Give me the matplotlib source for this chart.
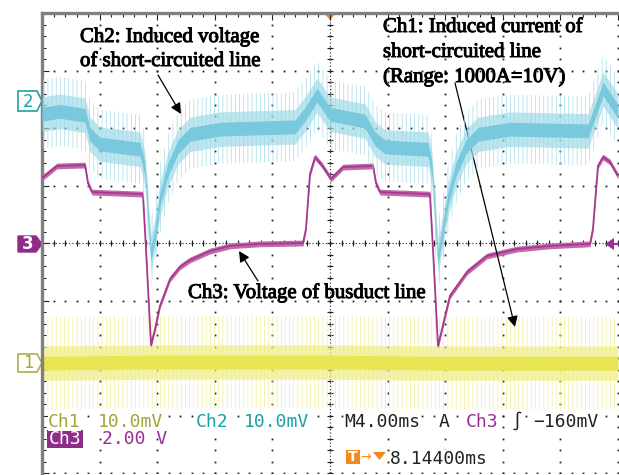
import numpy as np
import matplotlib
matplotlib.use("Agg")
import matplotlib.pyplot as plt
import matplotlib.patheffects as pe
from matplotlib.patches import Polygon, Rectangle
from matplotlib.transforms import Affine2D

# scope settings (from the readout)
MS_PER_DIV = 4.0
CH1_MV_PER_DIV, CH1_POS = 10.0, -2.05
CH2_MV_PER_DIV, CH2_POS = 10.0, 2.45
CH3_V_PER_DIV, CH3_POS = 2.0, 0.0

# Ch3: voltage of busduct line (V)
ch3_t = [0.00, 1.04, 2.99, 3.19, 3.47, 7.01, 7.22, 7.57, 7.85, 8.19, 8.89, 9.58,
         10.28, 11.67, 13.06, 15.14, 18.13, 18.33, 18.61, 18.96, 19.44, 20.07,
         20.90, 22.99, 23.19, 23.47, 26.94, 27.15, 27.50, 27.78, 28.33, 29.51,
         30.90, 32.99, 35.28, 38.06, 38.26, 38.61, 38.96, 39.44, 40.00]
ch3_v = [2.26, 2.68, 2.71, 2.09, 1.77, 1.70, -0.21, -3.55, -2.99, -2.19, -1.25, -0.83,
         -0.59, -0.28, -0.10, -0.03, 0.00, 0.49, 2.40, 2.99, 2.71, 2.23,
         2.64, 2.68, 2.09, 1.77, 1.70, -0.21, -3.58, -2.99, -1.84, -1.01,
         -0.45, -0.21, -0.10, -0.03, 0.49, 2.68, 2.99, 2.82, 2.33]

# Ch2: induced voltage of short-circuited line, mean of the noisy trace (mV)
ch2_t = [0.00, 1.25, 2.99, 3.33, 4.03, 6.81, 7.15, 7.36, 7.57, 7.85, 8.19, 8.75,
         9.44, 10.28, 12.36, 17.57, 18.26, 19.10, 20.00, 22.43, 23.13, 23.82,
         26.81, 27.08, 27.29, 27.50, 27.78, 28.19, 28.75, 29.44, 30.28, 32.50,
         37.92, 38.47, 38.96, 39.44, 40.00]
ch2_mv = [-2.1, -1.6, -2.3, -5.6, -7.3, -8.2, -11.7, -19.5, -26.4, -23.0, -16.9, -11.7,
          -7.8, -5.6, -4.7, -4.3, -2.1, 1.2, -2.1, -3.3, -6.4, -7.8,
          -8.2, -11.7, -19.5, -27.0, -23.0, -16.9, -11.7, -7.8, -5.6, -4.7,
          -5.0, -1.2, 2.3, 0.5, -1.6]
ch2_noise = [1.2, 3.0, 6.0]   # core / body / spike half-widths (mV)

# Ch1: induced current of short-circuited line (mV)
ch1_t = [0.0, 7.5, 20.0, 27.5, 40.0]
ch1_mv = [-0.4, -0.2, -0.2, -0.4, -0.4]
ch1_noise = [1.2, 3.0, 8.0]

W, H = 619, 475
plt.rcParams["hatch.linewidth"] = 0.5
fig = plt.figure(figsize=(W / 100, H / 100), dpi=100)
PX = Affine2D().scale(1 / W, -1 / H).translate(0, 1) + fig.transFigure
ax = fig.add_axes([42 / W, (H - 473) / H, 576 / W, 460 / H])
ax.set_xlim(0, 10 * MS_PER_DIV)
ax.set_ylim(-4, 4)

# graticule
dot_y = np.arange(-4, 4.001, 0.2)
dot_x = np.arange(0, 40.001, 0.8)
for gx in np.arange(0, 40.001, MS_PER_DIV):
    ax.plot(np.full_like(dot_y, gx), dot_y, ls="none", marker="s", ms=1.3,
            color="#222222", mew=0, zorder=1)
for gy in range(-4, 5):
    ax.plot(dot_x, np.full_like(dot_x, gy), ls="none", marker="s", ms=1.3,
            color="#222222", mew=0, zorder=1)
ax.axhline(0, color="#222222", lw=0.8, ls=(0, (1, 2)), zorder=1)
ax.axvline(20, color="#222222", lw=0.8, ls=(0, (1, 2)), zorder=1)
ax.plot(dot_x, np.zeros_like(dot_x), ls="none", marker="|", ms=4, mew=0.8,
        color="#222222", zorder=1)
ax.plot(np.full_like(dot_y, 20), dot_y, ls="none", marker="_", ms=4, mew=0.8,
        color="#222222", zorder=1)

for s in ["right", "bottom"]:
    ax.spines[s].set_visible(False)
for s in ["left", "top"]:
    ax.spines[s].set_color("#808080")
    ax.spines[s].set_linewidth(2.4)
ax.set_xticks(np.arange(0, 40.001, MS_PER_DIV))
ax.set_xticks(dot_x, minor=True)
ax.set_yticks(range(-4, 5))
ax.set_yticks(dot_y, minor=True)
ax.tick_params(which="both", direction="in", top=True, bottom=False, left=True,
               right=False, labelleft=False, labelbottom=False, color="#222222")
ax.tick_params(which="major", length=5, width=0.8)
ax.tick_params(which="minor", length=3, width=0.8)


def noisy_trace(t, y, widths, colors, zorder):
    # spike envelope as fine vertical hatching, then the dense body and core
    w_core, w_body, w_spike = widths
    ax.fill_between(t, y - w_spike, y + w_spike, facecolor="none", edgecolor=colors[0],
                    hatch="||||", lw=0, zorder=zorder)
    ax.fill_between(t, y - w_body, y + w_body, color=colors[1], alpha=0.65, lw=0,
                    zorder=zorder)
    ax.fill_between(t, y - w_core, y + w_core, color=colors[2], lw=0, zorder=zorder)


# Ch1 (yellow)
t1 = np.array(ch1_t)
y1 = np.array(ch1_mv) / CH1_MV_PER_DIV + CH1_POS
noisy_trace(t1, y1, np.array(ch1_noise) / CH1_MV_PER_DIV,
            ["#f0ee98", "#eeec7c", "#e8e552"], 2)

# Ch3 (magenta)
t3 = np.array(ch3_t)
y3 = np.array(ch3_v) / CH3_V_PER_DIV + CH3_POS
ax.fill_between(t3, y3 - 0.05, y3 + 0.05, color="#c06aae", lw=0, zorder=3)
ax.plot(t3, y3, color="#a8398f", lw=1.3, zorder=3)

# Ch2 (cyan)
t2 = np.array(ch2_t)
y2 = np.array(ch2_mv) / CH2_MV_PER_DIV + CH2_POS
noisy_trace(t2, y2, np.array(ch2_noise) / CH2_MV_PER_DIV,
            ["#a6dbe9", "#9ad8e6", "#78c9dd"], 4)

# channel markers
ax.add_patch(Polygon([(18, 91), (37, 91), (42, 101), (37, 111), (18, 111)],
                     closed=True, fc="white", ec="#1aa3a3", lw=1.2,
                     transform=PX, clip_on=False))
fig.text(28, 102, "2", transform=PX, color="#1aa3a3", fontsize=12,
         family="DejaVu Sans", ha="center", va="center")
ax.add_patch(Polygon([(18, 236), (36, 236), (42, 244), (36, 252), (18, 252)],
                     closed=True, fc="#8f2c88", ec="#8f2c88", lw=1.0,
                     transform=PX, clip_on=False))
fig.text(28, 244, "3", transform=PX, color="white", fontsize=12,
         family="DejaVu Sans", ha="center", va="center", weight="bold")
ax.add_patch(Polygon([(18, 354), (37, 354), (42, 363), (37, 372), (18, 372)],
                     closed=True, fc="white", ec="#b0ae45", lw=1.2,
                     transform=PX, clip_on=False))
fig.text(28, 363, "1", transform=PX, color="#a9a63a", fontsize=12,
         family="DejaVu Sans", ha="center", va="center")
# trigger position / level markers
ax.add_patch(Polygon([(323, 12), (337, 12), (330, 20)], closed=True,
                     fc="#f28a1e", ec="none", transform=PX, clip_on=False))
ax.add_patch(Polygon([(605, 244), (614, 238), (614, 250)], closed=True,
                     fc="#9b2f93", ec="none", transform=PX, clip_on=False, zorder=6))
ax.plot([612, 619], [244, 244], color="#9b2f93", lw=1.5, transform=PX, clip_on=False)

# readout (white behind the characters, like the scope screen)
bg = dict(fc="white", ec="none", pad=0)
mono = dict(transform=PX, family="DejaVu Sans Mono", fontsize=13, va="baseline")
fig.text(48, 427, "Ch1", color="#a5a33a", bbox=bg, **mono)
fig.text(98, 427, "10.0mV", color="#a5a33a", bbox=bg, **mono)
fig.text(196, 427, "Ch2", color="#1aa3a3", bbox=bg, **mono)
fig.text(244, 427, "10.0mV", color="#1aa3a3", bbox=bg, **mono)
fig.text(344, 427, "M4.00ms", color="#222222", bbox=bg, **mono)
fig.text(439, 427, "A", color="#222222", bbox=bg, **mono)
fig.text(466, 427, "Ch3", color="#9b2f93", bbox=bg, **mono)
fig.text(512, 427, "\u222b", color="#222222", bbox=bg, **mono)
fig.text(533, 427, "\u2212160mV", color="#222222", bbox=bg, **mono)
ax.add_patch(Rectangle((47, 430), 36, 18, fc="#8f2c88", ec="none",
                       transform=PX, clip_on=False))
fig.text(49, 444, "Ch3", color="white", **mono)
fig.text(102, 444, "2.00 V", color="#9b2f93", **mono)
ax.add_patch(Rectangle((346, 450), 14, 14, fc="#f28a1e", ec="none",
                       transform=PX, clip_on=False))
fig.text(353, 457, "T", transform=PX, color="white", fontsize=10, weight="bold",
         family="DejaVu Sans", ha="center", va="center")
fig.text(366, 457, "\u2192", transform=PX, color="#f28a1e", fontsize=9,
         family="DejaVu Sans", ha="center", va="center")
ax.add_patch(Polygon([(373, 452), (386, 452), (379.5, 460)], closed=True,
                     fc="#f28a1e", ec="none", transform=PX, clip_on=False))
fig.text(390, 464, "8.14400ms", color="#222222", bbox=bg, **mono)

# annotations
heavy = [pe.withStroke(linewidth=0.7, foreground="black")]
serif = dict(transform=PX, family="Liberation Serif", fontsize=15, color="black",
             va="baseline", path_effects=heavy)
fig.text(80, 42, "Ch2: Induced voltage", **serif)
fig.text(80, 66, "of short-circuited line", **serif)
fig.text(383, 32, "Ch1: Induced current of", **serif)
fig.text(383, 57, "short-circuited line", **serif)
fig.text(383, 82, "(Range: 1000A=10V)", **serif)
fig.text(188, 298, "Ch3: Voltage of busduct line", **serif)

arrow = dict(arrowstyle="-|>", color="black", lw=0.9, mutation_scale=16,
             shrinkA=0, shrinkB=0)
ax.annotate("", xy=(181, 114), xycoords=PX, xytext=(158, 75), textcoords=PX,
            arrowprops=arrow)
ax.annotate("", xy=(515, 327), xycoords=PX, xytext=(455, 83), textcoords=PX,
            arrowprops=arrow)
ax.annotate("", xy=(239, 251), xycoords=PX, xytext=(258, 281), textcoords=PX,
            arrowprops=arrow)

fig.savefig("out.png", dpi=100)
